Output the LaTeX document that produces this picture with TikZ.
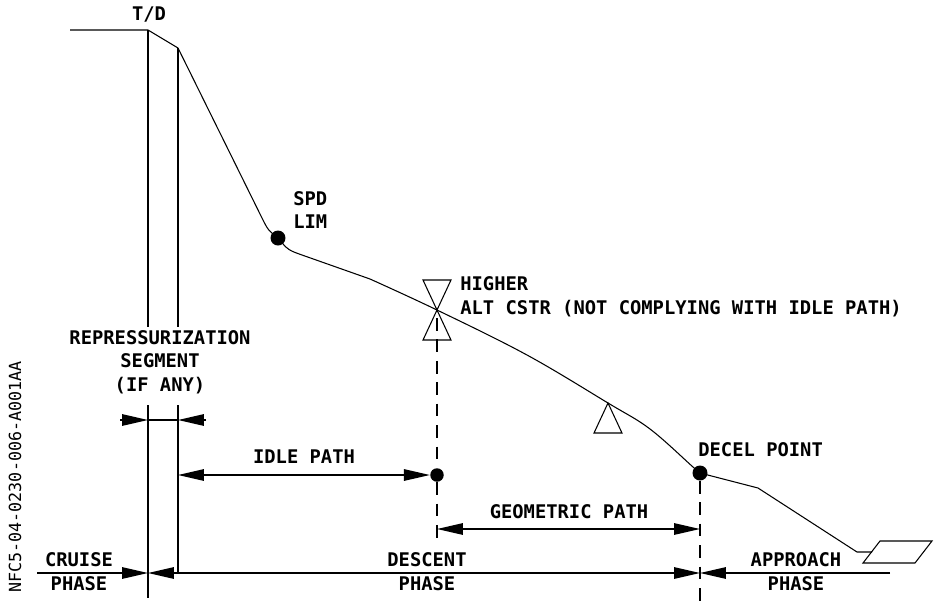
\documentclass[tikz,border=0pt]{standalone}
\usepackage{fontspec}
\setmonofont{DejaVu Sans Mono}
\usetikzlibrary{arrows.meta}
\tikzset{%
	lbl/.style={font=\ttfamily\bfseries\fontsize{10.7}{13.5}\selectfont, inner sep=0pt, align=center},
	code/.style={font=\ttfamily\fontsize{9.5}{11}\selectfont, inner sep=0pt, rotate=90},
	wpt/.style={circle, fill=black, inner sep=0pt, minimum size=0.3cm},
	wpts/.style={wpt, minimum size=0.27cm},
	prof/.style={line width=0.6pt},
	guide/.style={line width=0.8pt},
	dim/.style={line width=0.8pt},
	proj/.style={line width=0.7pt, dash pattern=on 7.2pt off 5pt}
}

\begin{document}
\begin{tikzpicture}[x=0.02cm, y=-0.02cm, >={Triangle[length=0.52cm, width=0.23cm]}]
	\useasboundingbox (0,0) rectangle (938,603);

	% profile points
	\coordinate (cruise) at (70,30);
	\coordinate (td)     at (148,30);
	\coordinate (rp)     at (178,48);
	\coordinate (cstr)   at (437,310);
	\node[wpt]  (spd)   at (278,238) {};
	\node[wpt]  (decel) at (700,473) {};
	\node[wpts] (idle)  at (437,475) {};

	% vertical segment limits
	\draw[guide] (td) -- (148,327);
	\draw[guide] (148,405) -- (148,598);
	\draw[guide] (rp) -- (178,327);
	\draw[guide] (178,405) -- (178,573);
	\draw[proj] (437,318) -- (idle);
	\draw[proj] (idle) -- (437,545);
	\draw[proj] (decel) -- (700,603);

	% vertical profile
	\draw[prof] (cruise) -- (td) -- (rp) -- (262,218) .. controls (268,230) .. (spd.center);
	\draw[prof] (spd.center) .. controls (288,250) .. (302,255) -- (370,279);
	\draw[prof] plot[smooth, tension=0.6] coordinates {(370,279) (437,310) (527,355)
		(608,403) (650,429) (693,467) (700,473)};
	\draw[prof] (decel.center) -- (758,488) -- (857,552) -- (872,552);
	\draw[prof] (863,563) -- (880,541) -- (932,541) -- (915,563) -- cycle;

	% constraints
	\draw[prof] (423,280) -- (451,280) -- (cstr) -- cycle;
	\draw[prof] (cstr) -- (423,340) -- (451,340) -- cycle;
	\draw[prof] (608,403) -- (594,433) -- (622,433) -- cycle;

	% dimension lines
	\coordinate (r0) at (120,420);
	\coordinate (r1) at (148,420);
	\coordinate (r2) at (178,420);
	\coordinate (r3) at (206,420);
	\draw[dim, ->] (r0) -- (r1);
	\draw[dim] (r1) -- (r2);
	\draw[dim, ->] (r3) -- (r2);
	\coordinate (i0) at (178,475);
	\draw[dim, <->] (i0) -- (idle.west);
	\coordinate (g0) at (437,529);
	\coordinate (g1) at (700,529);
	\draw[dim, <->] (g0) -- (g1);

	% phase line
	\coordinate (p0) at (37,573);
	\coordinate (p1) at (148,573);
	\coordinate (p2) at (700,573);
	\coordinate (p3) at (890,573);
	\draw[dim, ->] (p0) -- (p1);
	\draw[dim, <->] (p1) -- (p2);
	\draw[dim, ->] (p3) -- (p2);

	% labels
	\node[lbl] (tdl) at (149,15) {T/D};
	\node[lbl, anchor=west, align=left] (spdl) at (293,210) {SPD\\LIM};
	\node[lbl, anchor=west, align=left] (cstrl) at (460,297)
		{HIGHER\\ALT CSTR (NOT COMPLYING WITH IDLE PATH)};
	\node[lbl] (repl) at (160,362) {REPRESSURIZATION\\SEGMENT\\(IF ANY)};
	\node[lbl] (idlel) at (304,457) {IDLE PATH};
	\node[lbl] (geol) at (569,512) {GEOMETRIC PATH};
	\node[lbl, anchor=west] (decell) at (698,450) {DECEL POINT};
	\node[lbl] (crzl) at (79,572) {CRUISE\\PHASE};
	\node[lbl] (desl) at (427,572) {DESCENT\\PHASE};
	\node[lbl] (appl) at (796,572) {APPROACH\\PHASE};
	\node[code] (ref) at (15,477) {NFC5-04-0230-006-A001AA};
\end{tikzpicture}
\end{document}
